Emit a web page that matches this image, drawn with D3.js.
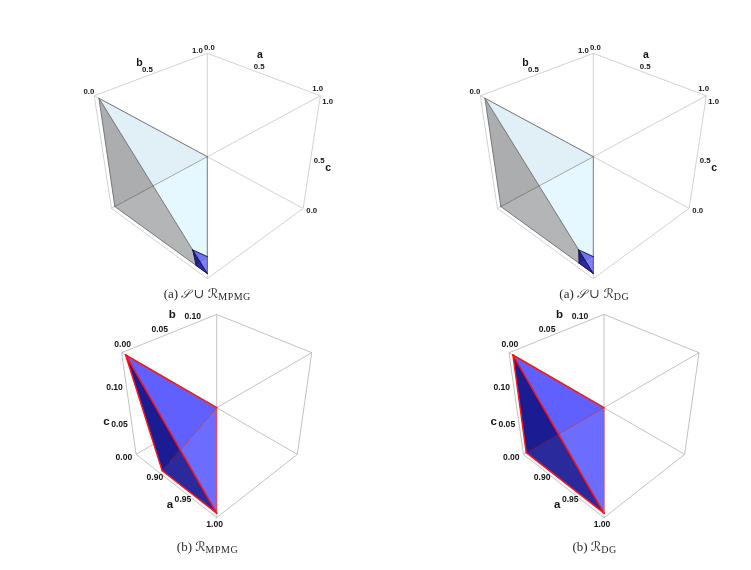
<!DOCTYPE html>
<html><head><meta charset="utf-8">
<script src="https://cdn.jsdelivr.net/npm/d3@7"></script>
<style>html,body{margin:0;background:#fff}svg{display:block;filter:blur(0.3px)}</style></head>
<body><svg id="c" width="751" height="570"></svg>
<script>
// ---- data (a, b, c) ----
const fullDomain = [[0,1],[0,1],[0,1]];
const zoomDomain = [[0.865,1],[0,0.135],[0,0.135]];
const sRegion = [[0,0,1],[1,0,1],[1,0,0],[0,0,0]];
const mpmgRegion = [[0.865,0,0.135],[1,0,0.135],[1,0,0],[0.91,0,0]];
const dgRegion = [[0.865,0,0.135],[1,0,0.135],[1,0,0],[0.865,0,0]];
const mpmgInset = [[0.865,0,0.135],[1,0,0.17],[1,0,0],[0.895,0,0]];
const dgInset = [[0.865,0,0.135],[1,0,0.17],[1,0,0],[0.865,0,0]];
const fullTicks = [0,0.5,1];
const zoomTicksA = [0.90,0.95,1.00];
const zoomTicksBC = [0,0.05,0.10];
const captions = ["(a) ","(a) ","(b) ","(b) "];
const subscripts = ["MPMG","DG","MPMG","DG"];

// ---- camera ----
const PAD = 0.0192, D = 3.51, SQ2 = Math.SQRT2, SQ3 = Math.sqrt(3), SQ6 = Math.sqrt(6);
function camera(cx, cy, fx, fy, dom){
  const s = dom.map(d => d3.scaleLinear().domain(d).range([PAD, 1-PAD]));
  const unit = u => {
    const [A,B,C] = u.map(v => v-0.5);
    const x=(A+B)/SQ2, y=(-A+B+2*C)/SQ6, z=(A-B+C)/SQ3, w=D-z;
    return [cx+fx*x/w, cy-fy*y/w];
  };
  return {unit, data: p => unit(p.map((v,i)=>s[i](v)))};
}
const svg = d3.select("#c");
const path = d3.line();
const cubeEdges = [];
[[0,0,0],[0,0,1],[0,1,0],[0,1,1],[1,0,0],[1,0,1],[1,1,0],[1,1,1]].forEach(p=>{
  [0,1,2].forEach(i=>{ if(!p[i]){const q=p.slice();q[i]=1;cubeEdges.push([p,q]);} });
});
// crossing of the two diagonals of a region (in the a-c plane)
function crossing(r){
  const [p,q,m,n]=r;
  const d1=[m[0]-p[0],m[2]-p[2]], d2=[n[0]-q[0],n[2]-q[2]];
  const det=d1[0]*d2[1]-d1[1]*d2[0];
  const t=((q[0]-p[0])*d2[1]-(q[2]-p[2])*d2[0])/det;
  return [p[0]+t*d1[0],0,p[2]+t*d1[1]];
}
function drawRegion(g, cam, r, st){
  const [lt,ct,bt,ll]=r, X=crossing(r);
  const poly=(pts,fill,op=1)=>g.append("path").attr("d",path(pts.map(cam.data))+"Z").attr("fill",fill).attr("fill-opacity",op).attr("stroke","none");
  const ln=(a,b,col,w,op=1)=>g.append("path").attr("d",path([a,b].map(cam.data))).attr("fill","none").attr("stroke",col).attr("stroke-width",w).attr("stroke-opacity",op).attr("stroke-linecap","round");
  poly([lt,ct,X],st.upA); poly([ct,bt,X],st.upB);
  poly([lt,X,ll],st.loA); poly([X,bt,ll],st.loB);
  ln(ct,X,st.diagA,st.diagW); ln(X,ll,st.diagB,st.diagW);
  ln(ct,bt,st.edgeThin,st.thinW);
  [[lt,ct],[lt,bt],[bt,ll],[ll,lt]].forEach(e=>ln(e[0],e[1],st.edge,st.edgeW));
}
const styleS={upA:"#E1EFF6",upB:"#E5F7FF",loA:"#ABADAF",loB:"#B3B5B7",diagA:"#8d979c",diagB:"#6f7173",diagW:0.8,edge:"#6b6d70",edgeW:0.9,edgeThin:"#6f7578",thinW:0.9};
const styleSmall={upA:"#7272F0",upB:"#8080FA",loA:"#20208E",loB:"#2C2CA0",diagA:"#4a4ab0",diagB:"#14145a",diagW:0.5,edge:"#10104a",edgeW:0.9,edgeThin:"#3c3c70",thinW:0.6};
const styleZoom={upA:"#6060FF",upB:"#6C6CFF",loA:"#1C1C92",loB:"#2A2A9C",diagA:"#A03A6A",diagB:"#5A0A3A",diagW:0.9,edge:"#FF1414",edgeW:1.5,edgeThin:"#E8484F",thinW:1.1};

function box(g,cam,col){
  cubeEdges.forEach(e=>g.append("path").attr("d",path(e.map(cam.unit))).attr("fill","none").attr("stroke",col).attr("stroke-width",0.8));
}
function label(g,x,y,t,size){
  g.append("text").attr("x",x).attr("y",y).attr("text-anchor","middle").attr("dominant-baseline","central")
   .attr("font-family","Liberation Sans, Arial, sans-serif").attr("font-weight","bold").attr("font-size",size).attr("fill","#151515").text(t);
}
function fullAxes(g,cam){
  const f=d3.format(".1f");
  fullTicks.forEach(t=>{
    let p=cam.data([t,1,1]); label(g,p[0]+2,p[1]-9.5,f(t),7.8);
    p=cam.data([0,t,1]); label(g,p[0]-10,p[1]-6.5,f(t),7.8);
    p=cam.data([1,1,t]); label(g,p[0]+12,p[1]+3.5,f(t),7.8);
  });
  let p=cam.data([0.5,1,1]); label(g,p[0]+2.7,p[1]-22,"a",10.5);
  p=cam.data([0,0.5,1]); label(g,p[0]-18,p[1]-14,"b",10.5);
  p=cam.data([1,1,0.5]); label(g,p[0]+21,p[1]+10,"c",10.5);
}
function zoomAxes(g,cam){
  const f=d3.format(".2f");
  zoomTicksA.forEach(t=>{ const p=cam.data([t,0,0]); label(g,p[0]-2,p[1]+10.5,f(t),8.6); });
  zoomTicksBC.forEach(t=>{
    let p=cam.data([0.865,t,0.135]); label(g,p[0]-3,p[1]-10.5,f(t),8.6);
    p=cam.data([0.865,0,t]); label(g,p[0]-15,p[1]+4,f(t),8.6);
  });
  let p=cam.data([0.95,0,0]); label(g,p[0]-15,p[1]+16,"a",11.5);
  p=cam.data([0.865,0.05,0.135]); label(g,p[0]+9.5,p[1]-26,"b",11.5);
  p=cam.data([0.865,0,0.05]); label(g,p[0]-28,p[1]+1,"c",11.5);
}
function caption(i,cx,y){
  const t=svg.append("text").attr("x",cx).attr("y",y).attr("text-anchor","middle")
    .attr("font-family","Liberation Serif, DejaVu Serif, serif").attr("font-size",13).attr("fill","#2a2a2a");
  t.append("tspan").text(captions[i]);
  if(i<2){
    t.append("tspan").attr("font-style","italic").attr("font-family","DejaVu Serif, serif").attr("font-size",12).text("𝒮");
    t.append("tspan").text(" ∪ ");
  }
  t.append("tspan").attr("font-style","italic").attr("font-family","DejaVu Sans, serif").attr("font-size",13).text("ℛ");
  t.append("tspan").attr("font-size",10).attr("letter-spacing",0.5).attr("dy",2).text(subscripts[i]);
}
const panels=[
 {cx:207.3,cy:156.7,fx:515,fy:481,type:"full",r:mpmgInset},
 {cx:593.3,cy:156.7,fx:515,fy:481,type:"full",r:dgInset},
 {cx:216.7,cy:407.7,fx:433,fy:434,type:"zoom",r:mpmgRegion},
 {cx:604,cy:407.7,fx:433,fy:434,type:"zoom",r:dgRegion}
];
panels.forEach(pn=>{
  const g=svg.append("g");
  if(pn.type==="full"){
    const cam=camera(pn.cx,pn.cy,pn.fx,pn.fy,fullDomain);
    box(g,cam,"#c6c6c6");
    drawRegion(g,cam,sRegion,styleS);
    drawRegion(g,cam,pn.r,styleSmall);
    fullAxes(g,cam);
  } else {
    const cam=camera(pn.cx,pn.cy,pn.fx,pn.fy,zoomDomain);
    box(g,cam,"#b2b2b2");
    drawRegion(g,cam,pn.r,styleZoom);
    zoomAxes(g,cam);
  }
});
caption(0,207.3,298); caption(1,594.3,298); caption(2,207.5,551); caption(3,594.5,551);
</script></body></html>
